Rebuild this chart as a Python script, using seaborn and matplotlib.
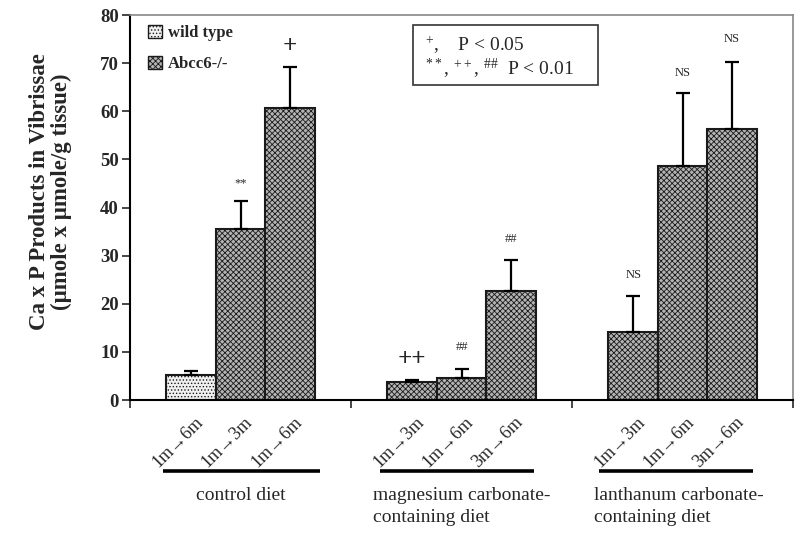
import numpy as np
import pandas as pd
import matplotlib
matplotlib.use("Agg")
import matplotlib.pyplot as plt
from matplotlib.patches import Patch, Rectangle
import seaborn as sns

# data
diets = ["control diet", "magnesium carbonate-\ncontaining diet", "lanthanum carbonate-\ncontaining diet"]
slots = ["a", "b", "c"]
periods = [["1m\u21926m", "1m\u21923m", "1m\u21926m"],
           ["1m\u21923m", "1m\u21926m", "3m\u21926m"],
           ["1m\u21923m", "1m\u21926m", "3m\u21926m"]]
genotype = [["wild type", "Abcc6-/-", "Abcc6-/-"],
            ["Abcc6-/-", "Abcc6-/-", "Abcc6-/-"],
            ["Abcc6-/-", "Abcc6-/-", "Abcc6-/-"]]
means = [[5.2, 35.6, 60.7],
         [3.8, 4.6, 22.7],
         [14.2, 48.7, 56.4]]
errs = [[0.8, 5.8, 8.5],
        [0.4, 1.8, 6.3],
        [7.5, 15.0, 13.9]]
marks = [["", "**", "+"],
         ["++", "##", "##"],
         ["NS", "NS", "NS"]]
mark_y = [[None, 45.0, 73.5],
          [8.5, 11.0, 33.5],
          [26.0, 68.0, 75.0]]

rows = []
for i, d in enumerate(diets):
    for j, s in enumerate(slots):
        rows.append({"diet": d, "slot": s, "value": means[i][j]})
df = pd.DataFrame(rows)

sns.set_theme(style="white")
plt.rcParams["font.family"] = ["Liberation Serif", "DejaVu Serif"]
plt.rcParams["mathtext.fontset"] = "custom"
plt.rcParams["mathtext.rm"] = "Liberation Serif"
plt.rcParams["mathtext.it"] = "Liberation Serif"
plt.rcParams["hatch.linewidth"] = 0.6

fig = plt.figure(figsize=(8, 5.36), dpi=100)
ax = fig.add_axes([0.1625, 0.2537, 0.8288, 0.7183])

sns.barplot(data=df, x="diet", y="value", hue="slot", order=diets, hue_order=slots,
            width=0.67, errorbar=None, legend=False, ax=ax)

styles = {"wild type": dict(facecolor="#f0f0f0", hatch="....."),
          "Abcc6-/-": dict(facecolor="#b4b4b4", hatch="xxxxxx")}

bar_conts = list(ax.containers)
for j, cont in enumerate(bar_conts):
    for i, bar in enumerate(cont):
        st = styles[genotype[i][j]]
        bar.set_facecolor(st["facecolor"])
        bar.set_hatch(st["hatch"])
        bar.set_edgecolor("#1a1a1a")
        bar.set_linewidth(1.5)
        xc = bar.get_x() + bar.get_width() / 2
        ax.errorbar(xc, means[i][j], yerr=[[0], [errs[i][j]]], fmt="none",
                    ecolor="black", elinewidth=1.6, capsize=5, capthick=1.6)
        if marks[i][j]:
            big = marks[i][j] in ("+", "++")
            ax.text(xc, mark_y[i][j], marks[i][j], ha="center", va="center",
                    fontsize=18 if big else 9, fontweight="bold" if big else "normal")
        # rotated period labels below the axis
        ax.text(xc + 0.07, -0.035, periods[i][j], rotation=45, ha="right", va="top",
                fontsize=13, transform=ax.get_xaxis_transform())

# group lines and names
line_ext = [(-0.35, 0.36), (-0.37, 0.33), (-0.38, 0.32)]
for i, d in enumerate(diets):
    ax.plot([i + line_ext[i][0], i + line_ext[i][1]], [-0.184, -0.184], color="black", lw=2.6,
            transform=ax.get_xaxis_transform(), clip_on=False, solid_capstyle="butt")
    if i == 0:
        ax.text(i, -0.226, d, ha="center", va="top", fontsize=14,
                transform=ax.get_xaxis_transform(), linespacing=1.35)
    else:
        ax.text(i - 0.40, -0.226, d, ha="left", va="top", fontsize=14,
                transform=ax.get_xaxis_transform(), linespacing=1.35)

ax.set_xlim(-0.5, 2.5)
ax.set_ylim(0, 80)
ax.set_yticks(range(0, 81, 10))
ax.set_xticks([-0.5, 0.5, 1.5, 2.5])
ax.set_xticklabels([])
ax.set_xlabel("")
ax.set_ylabel("Ca x P Products in Vibrissae\n(\u03bcmole x \u03bcmole/g tissue)",
              fontsize=16.5, fontweight="bold", linespacing=1.0)
ax.yaxis.set_label_coords(-0.088, 0.542)
ax.tick_params(axis="y", direction="out", length=6, width=1.2, labelsize=13.5, pad=2)
ax.tick_params(axis="x", direction="out", length=6, width=1.2)
ax.tick_params(axis="both", which="both", left=True, bottom=True)
for lab in ax.get_yticklabels():
    lab.set_fontweight("bold")

for side in ["left", "bottom"]:
    ax.spines[side].set_color("black")
    ax.spines[side].set_linewidth(1.5)
for side in ["top", "right"]:
    ax.spines[side].set_color("#888888")
    ax.spines[side].set_linewidth(1.2)

# legend
handles = [Patch(facecolor=styles[k]["facecolor"], hatch=styles[k]["hatch"],
                 edgecolor="#1a1a1a", label=k) for k in ["wild type", "Abcc6-/-"]]
leg = ax.legend(handles=handles, loc="upper left", bbox_to_anchor=(0.005, 1.013),
                frameon=False, handlelength=0.8, handleheight=0.8, handletextpad=0.4,
                labelspacing=0.9, prop={"family": "Liberation Serif", "weight": "bold", "size": 12})

# significance key box
ax.add_patch(Rectangle((0.427, 0.818), 0.279, 0.156, transform=ax.transAxes,
                       facecolor="white", edgecolor="#333333", lw=1.2, zorder=5))
ax.text(0.445, 0.922, r"$^{+}$,    P < 0.05", transform=ax.transAxes, fontsize=14,
        va="center", ha="left", zorder=6)
ax.text(0.445, 0.860, r"$^{**}$, $^{++}$, $^{\#\#}$  P < 0.01", transform=ax.transAxes,
        fontsize=14, va="center", ha="left", zorder=6)

fig.savefig("out.png", dpi=100)
